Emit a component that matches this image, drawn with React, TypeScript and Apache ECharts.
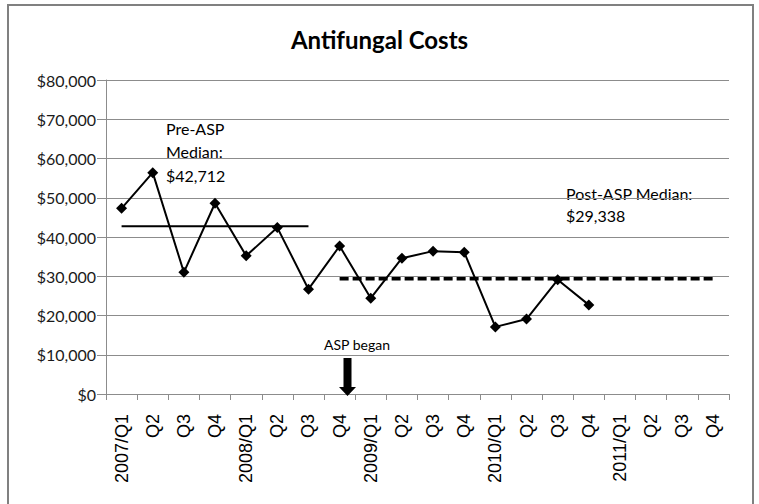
import React, { useEffect, useRef } from "react";
import * as echarts from "echarts";

const categories = [
  "2007/Q1", "Q2", "Q3", "Q4",
  "2008/Q1", "Q2", "Q3", "Q4",
  "2009/Q1", "Q2", "Q3", "Q4",
  "2010/Q1", "Q2", "Q3", "Q4",
  "2011/Q1", "Q2", "Q3", "Q4",
];

const costs = [
  47300, 56400, 31000, 48600,
  35200, 42400, 26700, 37700,
  24400, 34600, 36400, 36100,
  17100, 19100, 29100, 22700,
];

const preMedian = 42712;
const preMedianRange = [0, 6];
const postMedian = 29338;
const postMedianRange = [7, 19];

const yTicks = [0, 10000, 20000, 30000, 40000, 50000, 60000, 70000, 80000];

const preLabel = ["Pre-ASP", "Median:", "$42,712"];
const postLabel = ["Post-ASP Median:", "$29,338"];
const aspLabel = "ASP began";

const fmt = (v: number) => "$" + v.toLocaleString("en-US");

export default function App() {
  const ref = useRef<HTMLDivElement>(null);

  useEffect(() => {
    if (!ref.current) return;
    const chart = echarts.init(ref.current, null, { renderer: "svg" });
    const range = (r: number[], v: number) =>
      categories.map((_, i) => (i >= r[0] && i <= r[1] ? v : null));

    const grey = "#8c8c8c";
    const txtFont = "Lato";

    chart.setOption({
      animation: false,
      backgroundColor: "#fff",
      title: {
        text: "Antifungal Costs",
        left: "center",
        top: 22,
        textStyle: { fontFamily: txtFont, fontWeight: "bold", fontSize: 24, color: "#000" },
      },
      grid: { left: 106, right: 30, top: 80, bottom: 110 },
      xAxis: {
        type: "category",
        data: categories,
        boundaryGap: true,
        axisLine: { show: true, lineStyle: { color: grey, width: 1 } },
        axisTick: { show: true, length: 6, lineStyle: { color: grey } },
        axisLabel: {
          interval: 0,
          rotate: 90,
          margin: 20,
          fontFamily: "Liberation Sans",
          fontSize: 18,
          color: "#000",
        },
      },
      yAxis: {
        type: "value",
        min: yTicks[0],
        max: yTicks[yTicks.length - 1],
        interval: yTicks[1] - yTicks[0],
        axisLine: { show: true, lineStyle: { color: grey, width: 1 } },
        axisTick: { show: true, length: 9, lineStyle: { color: grey } },
        splitLine: { show: true, lineStyle: { color: grey, width: 1 } },
        axisLabel: {
          margin: 10,
          formatter: (v: number) => fmt(v),
          fontFamily: txtFont,
          fontSize: 16,
          color: "#1a1a1a",
        },
      },
      series: [
        {
          type: "line",
          data: range(preMedianRange, preMedian),
          symbol: "none",
          lineStyle: { color: "#000", width: 2 },
          z: 3,
        },
        {
          type: "line",
          data: range(postMedianRange, postMedian),
          symbol: "none",
          lineStyle: { color: "#000", width: 3.5, type: [9, 4] },
          z: 3,
        },
        {
          type: "line",
          data: costs,
          symbol: "diamond",
          symbolSize: 11,
          itemStyle: { color: "#000" },
          lineStyle: { color: "#000", width: 2 },
          z: 4,
        },
      ],
      graphic: [
        {
          type: "rect",
          shape: { x: 8, y: 5, width: 745, height: 540 },
          style: { fill: "none", stroke: "#808080", lineWidth: 2 },
          silent: true,
        },
        ...preLabel.map((t, i) => ({
          type: "text",
          x: 166,
          y: 128 + i * 23.5,
          style: {
            text: t,
            fontFamily: txtFont,
            fontSize: 16,
            fill: "#000",
            verticalAlign: "middle",
          },
        })),
        ...postLabel.map((t, i) => ({
          type: "text",
          x: 566,
          y: 193 + i * 22,
          style: {
            text: t,
            fontFamily: txtFont,
            fontSize: 16,
            fill: "#000",
            verticalAlign: "middle",
          },
        })),
        {
          type: "text",
          x: 357,
          y: 344,
          style: {
            text: aspLabel,
            fontFamily: txtFont,
            fontSize: 14,
            fill: "#000",
            align: "center",
            verticalAlign: "middle",
          },
        },
        {
          type: "polygon",
          shape: {
            points: [
              [343.5, 358], [351.5, 358], [351.5, 387], [356, 387],
              [347.5, 396], [339, 387], [343.5, 387],
            ],
          },
          style: { fill: "#000" },
          z: 10,
        },
      ],
    });
    return () => chart.dispose();
  }, []);

  return (
    <div
      ref={ref}
      style={{ position: "absolute", left: 0, top: 0, width: 759, height: 504 }}
    />
  );
}
